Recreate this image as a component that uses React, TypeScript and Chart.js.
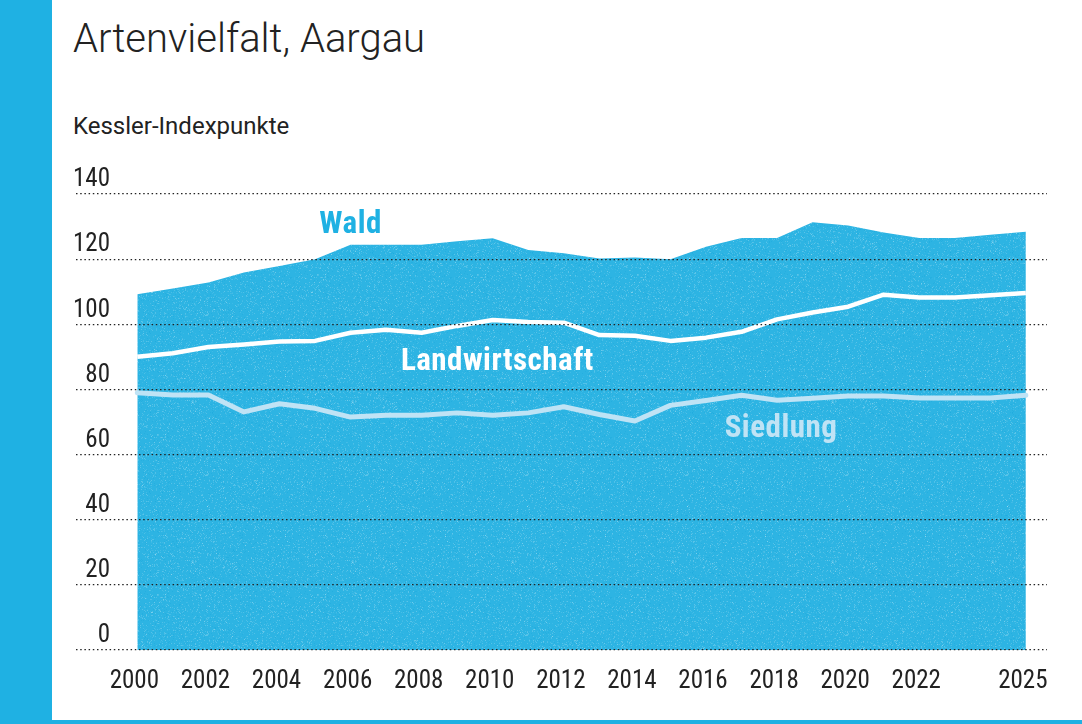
import React, { useEffect, useRef } from "react";
import { Chart, registerables } from "chart.js";

Chart.register(...registerables);

// ---- data ----
const years = [
  2000, 2001, 2002, 2003, 2004, 2005, 2006, 2007, 2008, 2009, 2010, 2011, 2012,
  2013, 2014, 2015, 2016, 2017, 2018, 2019, 2020, 2021, 2022, 2023, 2024, 2025,
];
const wald = [
  109.2, 111.0, 112.8, 115.9, 117.9, 120.0, 124.4, 124.4, 124.4, 125.5, 126.4, 122.8, 121.8,
  120.2, 120.5, 120.0, 123.8, 126.5, 126.5, 131.3, 130.3, 128.2, 126.5, 126.5, 127.5, 128.4,
];
const landwirtschaft = [
  90.0, 91.1, 93.0, 93.8, 94.7, 94.9, 97.4, 98.3, 97.4, 99.5, 101.3, 100.7, 100.5,
  96.7, 96.5, 94.9, 95.9, 97.7, 101.5, 103.6, 105.4, 109.1, 108.2, 108.2, 108.9, 109.6,
];
const siedlung = [
  79.0, 78.3, 78.3, 73.1, 75.6, 74.2, 71.5, 72.1, 72.1, 72.8, 72.1, 72.8, 74.7,
  72.3, 70.3, 75.1, 76.6, 78.2, 76.7, 77.3, 78.0, 78.0, 77.4, 77.4, 77.4, 78.2,
];
const xTickYears = [2000, 2002, 2004, 2006, 2008, 2010, 2012, 2014, 2016, 2018, 2020, 2022, 2025];
const yTickValues = [0, 20, 40, 60, 80, 100, 120, 140];
const seriesNames = ["Wald", "Landwirtschaft", "Siedlung"];
const labelYears = [2006.0, 2010.13, 2018.11];
const labelValues = [127.9, 85.9, 65.5];

const TITLE = "Artenvielfalt, Aargau";
const SUBTITLE = "Kessler-Indexpunkte";

// ---- styles ----
const BLUE = "#1fb1e3";
const AREA_BASE = "#2db4e3";
const WHITE_LINE = "#ffffff";
const LIGHT_LINE = "#bfe3f5";
const LABEL_COLORS = [BLUE, "#ffffff", "#bfe3f5"];
const TEXT = "#222222";
const COND_FONT = '"Roboto Condensed", "DejaVu Sans Condensed", sans-serif';

function makeTexture(ctx: CanvasRenderingContext2D): CanvasPattern | string {
  const c = document.createElement("canvas");
  c.width = 160;
  c.height = 160;
  const g = c.getContext("2d");
  if (!g) return AREA_BASE;
  g.fillStyle = AREA_BASE;
  g.fillRect(0, 0, 160, 160);
  let s = 12345;
  const rnd = () => {
    s = (s * 1103515245 + 12345) & 0x7fffffff;
    return s / 0x7fffffff;
  };
  for (let i = 0; i < 4000; i++) {
    const x = Math.floor(rnd() * 160);
    const y = Math.floor(rnd() * 160);
    const a = 0.05 + rnd() * 0.18;
    g.fillStyle = `rgba(255,255,255,${a.toFixed(2)})`;
    g.fillRect(x, y, 1, 1);
  }
  for (let i = 0; i < 1500; i++) {
    const x = Math.floor(rnd() * 160);
    const y = Math.floor(rnd() * 160);
    g.fillStyle = "rgba(20,165,220,0.3)";
    g.fillRect(x, y, 1, 1);
  }
  return ctx.createPattern(c, "repeat") || AREA_BASE;
}

const seriesLabelPlugin = {
  id: "seriesLabels",
  afterDatasetsDraw(chart: any) {
    const { ctx, scales } = chart;
    const xs = scales.x;
    const ys = scales.y;
    ctx.save();
    ctx.font = 'bold 31px "Roboto Condensed", "Liberation Sans", sans-serif';
    try {
      (ctx as any).letterSpacing = "0.5px";
    } catch (e) {
      /* ignore */
    }
    ctx.textAlign = "center";
    ctx.textBaseline = "alphabetic";
    seriesNames.forEach((name, i) => {
      ctx.fillStyle = LABEL_COLORS[i];
      ctx.fillText(name, xs.getPixelForValue(labelYears[i]), ys.getPixelForValue(labelValues[i]));
    });
    ctx.restore();
  },
};

export default function App() {
  const ref = useRef<HTMLCanvasElement | null>(null);

  useEffect(() => {
    const canvas = ref.current;
    if (!canvas) return;
    const ctx = canvas.getContext("2d");
    if (!ctx) return;
    const texture = makeTexture(ctx);
    const pts = (arr: number[]) => years.map((yr, i) => ({ x: yr, y: arr[i] }));

    let chart: Chart | null = null;
    let cancelled = false;
    const build = () => {
      if (cancelled) return;
      chart = new Chart(canvas, {
        type: "line",
        data: {
          datasets: [
            {
              label: seriesNames[2],
              data: pts(siedlung),
              borderColor: LIGHT_LINE,
              borderWidth: 5,
              borderCapStyle: "round",
              borderJoinStyle: "round",
              pointRadius: 0,
              fill: false,
              tension: 0,
              order: 0,
            },
            {
              label: seriesNames[1],
              data: pts(landwirtschaft),
              borderColor: WHITE_LINE,
              borderWidth: 4.5,
              borderCapStyle: "butt",
              borderJoinStyle: "round",
              pointRadius: 0,
              fill: false,
              tension: 0,
              order: 1,
            },
            {
              label: seriesNames[0],
              data: pts(wald),
              borderWidth: 0,
              borderColor: "rgba(0,0,0,0)",
              backgroundColor: texture as any,
              pointRadius: 0,
              fill: "origin",
              tension: 0,
              order: 2,
            },
          ],
        },
        options: {
          responsive: false,
          animation: false,
          events: [],
          layout: { padding: { left: 76, right: 35, top: 194, bottom: 34 } },
          plugins: {
            legend: { display: false },
            tooltip: { enabled: false },
            title: { display: false },
          },
          scales: {
            x: {
              type: "linear",
              min: 1998.275,
              max: 2025.595,
              grid: { display: false, drawTicks: false },
              border: { display: false },
              afterBuildTicks: (scale: any) => {
                scale.ticks = xTickYears.map((v) => ({ value: v }));
              },
              afterFit: (scale: any) => {
                scale.height = 40;
              },
              ticks: {
                autoSkip: false,
                maxRotation: 0,
                minRotation: 0,
                padding: 17,
                labelOffset: -3,
                color: TEXT,
                font: { family: COND_FONT, size: 25 },
                callback: (v: any) => String(v),
              },
            },
            y: {
              type: "linear",
              min: 0,
              max: 140,
              grid: {
                color: TEXT,
                lineWidth: 1.2,
                drawTicks: false,
                tickLength: 0,
                z: 1,
              },
              border: { display: false, dash: [1.5, 2.7] },
              afterBuildTicks: (scale: any) => {
                scale.ticks = yTickValues.map((v) => ({ value: v }));
              },
              afterFit: (scale: any) => {
                scale.width = 0;
              },
              ticks: {
                mirror: true,
                crossAlign: "far",
                padding: -3,
                labelOffset: -14,
                z: 1,
                color: TEXT,
                font: { family: COND_FONT, size: 25 },
                callback: (v: any) => String(v),
              },
            },
          },
        },
        plugins: [seriesLabelPlugin],
      });
    };
    const fontsReady = (document as any).fonts
      ? Promise.all([
          (document as any).fonts.load('25px "Roboto Condensed"'),
          (document as any).fonts.load('bold 31px "Roboto Condensed"'),
        ]).catch(() => null)
      : Promise.resolve(null);
    fontsReady.then(build);
    return () => {
      cancelled = true;
      if (chart) chart.destroy();
    };
  }, []);

  return (
    <div style={{ position: "absolute", left: 0, top: 0, width: 1082, height: 724, background: "#fff", overflow: "hidden" }}>
      <div style={{ position: "absolute", left: 0, top: 0, width: 52, height: 724, background: BLUE }} />
      <div style={{ position: "absolute", left: 0, top: 720, width: 1082, height: 4, background: BLUE }} />
      <div
        style={{
          position: "absolute",
          left: 73,
          top: 19,
          fontFamily: "Roboto, 'Liberation Sans', sans-serif",
          fontWeight: 300,
          fontSize: 40,
          lineHeight: "40px",
          color: TEXT,
          whiteSpace: "nowrap",
        }}
      >
        {TITLE}
      </div>
      <div
        style={{
          position: "absolute",
          left: 73,
          top: 114,
          fontFamily: "Roboto, 'Liberation Sans', sans-serif",
          fontSize: 24,
          lineHeight: "24px",
          color: TEXT,
          whiteSpace: "nowrap",
        }}
      >
        {SUBTITLE}
      </div>
      <canvas ref={ref} width={1082} height={724} style={{ position: "absolute", left: 0, top: 0, width: 1082, height: 724 }} />
    </div>
  );
}
